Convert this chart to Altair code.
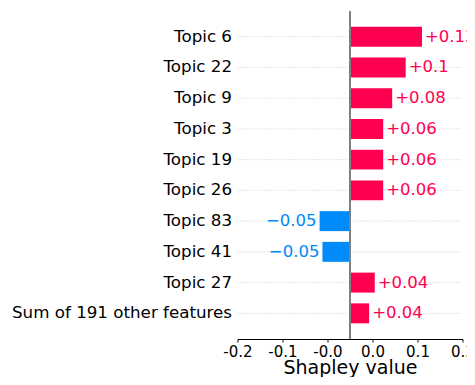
import altair as alt
import pandas as pd

features = ["Topic 6", "Topic 22", "Topic 9", "Topic 3", "Topic 19", "Topic 26",
            "Topic 83", "Topic 41", "Topic 27", "Sum of 191 other features"]
values = [0.128, 0.099, 0.075, 0.059, 0.059, 0.059, -0.054, -0.049, 0.044, 0.034]
labels = ["+0.13", "+0.1", "+0.08", "+0.06", "+0.06", "+0.06",
          "\u22120.05", "\u22120.05", "+0.04", "+0.04"]

tick_values = [-0.2, -0.12, -0.04, 0.04, 0.12, 0.2]
tick_labels = ["-0.2", "-0.1", "-0.0", "0.0", "0.1", "0.2"]

RED = "#ff0051"
BLUE = "#008bfb"
FONT = "DejaVu Sans"

df = pd.DataFrame({
    "feature": features,
    "value": values,
    "label": labels,
    "sign": ["pos" if v >= 0 else "neg" for v in values],
})

yscale = alt.Scale(paddingInner=0.35, paddingOuter=0.51)
ysort = features
xscale = alt.Scale(domain=[-0.2, 0.2], nice=False, zero=False)
color = alt.Color("sign:N", scale=alt.Scale(domain=["pos", "neg"], range=[RED, BLUE]), legend=None)

label_expr = "{}[indexof({}, datum.value)]".format(
    "[" + ",".join("'%s'" % t for t in tick_labels) + "]",
    "[" + ",".join(str(v) for v in tick_values) + "]",
)

base = alt.Chart(df)

grid = base.mark_rule(color="#cccccc", strokeWidth=1, strokeDash=[1, 2]).encode(
    y=alt.Y("feature:N", sort=ysort, scale=yscale,
            axis=alt.Axis(title=None, domain=False, ticks=False, labelPadding=6,
                          labelFontSize=16.7, labelFont=FONT, labelColor="#000000",
                          labelLimit=0)),
    x=alt.datum(-0.2, scale=xscale),
    x2=alt.datum(0.2),
)

bars = base.mark_bar().encode(
    y=alt.Y("feature:N", sort=ysort, scale=yscale),
    x=alt.X("value:Q", scale=xscale,
            axis=alt.Axis(title="Shapley value", values=tick_values, labelExpr=label_expr,
                          grid=False, domainColor="#000000", tickColor="#000000",
                          tickSize=3, labelPadding=2, labelFontSize=15, labelFont=FONT,
                          labelColor="#000000", titleFont=FONT, titleFontSize=19,
                          titleFontWeight="normal", titleColor="#000000",
                          titlePadding=-1, titleLimit=0, labelFlush=False)),
    x2=alt.datum(0),
    color=color,
)

zero = base.mark_rule(color="#808080", strokeWidth=2).encode(
    x=alt.datum(0, scale=xscale),
)

pos_text = base.transform_filter("datum.value >= 0").mark_text(
    align="left", baseline="middle", dx=3, fontSize=16.5, font=FONT
).encode(
    y=alt.Y("feature:N", sort=ysort, scale=yscale),
    x=alt.X("value:Q", scale=xscale),
    text="label:N",
    color=color,
)

neg_text = base.transform_filter("datum.value < 0").mark_text(
    align="right", baseline="middle", dx=-3, fontSize=16.5, font=FONT
).encode(
    y=alt.Y("feature:N", sort=ysort, scale=yscale),
    x=alt.X("value:Q", scale=xscale),
    text="label:N",
    color=color,
)

chart = alt.layer(grid, bars, zero, pos_text, neg_text).properties(
    width=225,
    height=328,
    padding={"left": 229.5, "top": 3, "right": 4.5, "bottom": 38},
    autosize=alt.AutoSizeParams(type="none"),
).configure_view(stroke=None)

chart.save("out.html", embed_options={"renderer": "svg", "actions": False})
